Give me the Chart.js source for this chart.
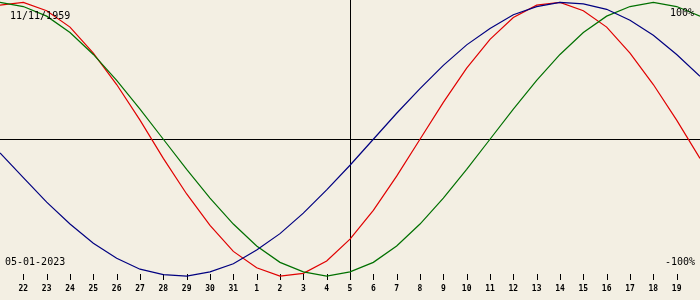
<!DOCTYPE html>
<html>
<head>
<meta charset="utf-8">
<script src="https://cdn.jsdelivr.net/npm/chart.js@4/dist/chart.umd.min.js"></script>
<style>
  html, body { margin: 0; padding: 0; background: #f3efe3; }
  #wrap { width: 700px; height: 300px; }
</style>
</head>
<body>
<div id="wrap"><canvas id="bio-chart" width="700" height="300"></canvas></div>
<script>
// days shown, 21 Dec 2022 .. 20 Jan 2023 (first and last are not labelled)
const days = [
  "21", "22", "23", "24", "25", "26", "27", "28", "29", "30", "31",
  "1", "2", "3", "4", "5", "6", "7", "8", "9", "10",
  "11", "12", "13", "14", "15", "16", "17", "18", "19", "20"
];

// percent values, one per day
const physical = [
  98, 100, 94, 82, 63, 40, 14, -14, -40, -63, -82,
  -94, -100, -98, -89, -73, -52, -27, 0, 27, 52,
  73, 89, 98, 100, 94, 82, 63, 40, 14, -14
];
const emotional = [
  100, 97, 90, 78, 62, 43, 22, 0, -22, -43, -62,
  -78, -90, -97, -100, -97, -90, -78, -62, -43, -22,
  0, 22, 43, 62, 78, 90, 97, 100, 97, 90
];
const intellectual = [
  -10, -28, -46, -62, -76, -87, -95, -99, -100, -97, -91,
  -81, -69, -54, -37, -19, 0, 19, 37, 54, 69,
  81, 91, 97, 100, 99, 95, 87, 76, 62, 46
];

const birthDate = "11/11/1959";
const chartDate = "05-01-2023";
const todayIndex = 15;

const textFont = "10px 'DejaVu Sans Mono'";

const overlay = {
  id: "overlay",
  beforeDatasetsDraw(chart) {
    const ctx = chart.ctx;
    const x = chart.scales.x;
    const y = chart.scales.y;
    ctx.save();
    ctx.strokeStyle = "#000";
    ctx.lineWidth = 1;
    // zero line
    const y0 = Math.round(y.getPixelForValue(0)) + 0.5;
    ctx.beginPath();
    ctx.moveTo(0, y0);
    ctx.lineTo(700, y0);
    ctx.stroke();
    // today line
    const xt = Math.round(x.getPixelForValue(todayIndex)) + 0.5;
    ctx.beginPath();
    ctx.moveTo(xt, 0);
    ctx.lineTo(xt, 280);
    ctx.stroke();
    // day tick marks
    for (let i = 1; i < days.length - 1; i++) {
      const px = Math.round(x.getPixelForValue(i)) + 0.5;
      ctx.beginPath();
      ctx.moveTo(px, 274);
      ctx.lineTo(px, 280);
      ctx.stroke();
    }
    ctx.restore();
  },
  afterDraw(chart) {
    const ctx = chart.ctx;
    ctx.save();
    ctx.fillStyle = "#000";
    ctx.font = textFont;
    ctx.textBaseline = "middle";
    ctx.textAlign = "left";
    ctx.fillText(birthDate, 10, 16);
    ctx.fillText(chartDate, 5, 262);
    ctx.textAlign = "right";
    ctx.fillText("100%", 694, 13);
    ctx.fillText("-100%", 695, 262);
    ctx.restore();
  }
};

new Chart("bio-chart", {
  type: "line",
  data: {
    labels: days,
    datasets: [{
      label: "Intellectual",
      borderColor: "#000080",
      data: intellectual
    }, {
      label: "Emotional",
      borderColor: "#007000",
      data: emotional
    }, {
      label: "Physical",
      borderColor: "#e00000",
      data: physical
    }]
  },
  options: {
    responsive: false,
    animation: false,
    devicePixelRatio: 1,
    layout: { padding: 0 },
    elements: {
      line: { borderWidth: 1.2, tension: 0 },
      point: { radius: 0 }
    },
    plugins: {
      legend: { display: false },
      tooltip: { enabled: false }
    },
    scales: {
      x: {
        offset: false,
        border: { display: false },
        grid: { display: false, drawTicks: false },
        afterFit(scale) {
          scale.height = 20;
          scale.paddingLeft = 0;
          scale.paddingRight = 0;
        },
        ticks: {
          autoSkip: false,
          maxRotation: 0,
          padding: 4,
          color: "#000",
          font: { family: "DejaVu Sans Mono", size: 8, weight: "bold" },
          callback(value, index) {
            return (index === 0 || index === days.length - 1) ? "" : days[index];
          }
        }
      },
      y: {
        display: false,
        min: -102.9,
        max: 101.8
      }
    }
  },
  plugins: [overlay]
});
</script>
</body>
</html>
